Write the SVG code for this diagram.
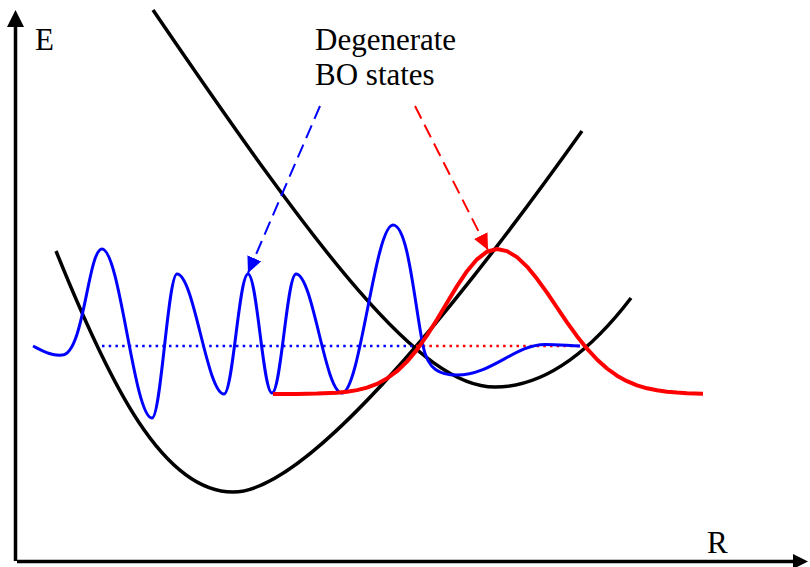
<svg xmlns="http://www.w3.org/2000/svg" width="810" height="567" viewBox="0 0 810 567">
  <defs>
    <style>
      .txt { font-family: "Liberation Serif", "Times New Roman", serif; font-size: 31px; fill: #000; }
      .axis { stroke: #000; stroke-width: 3.5; fill: none; }
      .pes { stroke: #000; stroke-width: 3.5; fill: none; stroke-linecap: butt; }
      .blue { stroke: #0000ff; stroke-width: 3; fill: none; stroke-linejoin: round; }
      .red { stroke: #ff0000; stroke-width: 4; fill: none; stroke-linejoin: round; }
      .dotb { stroke: #0000ff; stroke-width: 2.5; stroke-dasharray: 2.5 4.2; fill: none; }
      .dotr { stroke: #ff0000; stroke-width: 2.5; stroke-dasharray: 2.5 4.2; fill: none; }
      .dashb { stroke: #0000ff; stroke-width: 2; stroke-dasharray: 14 7; fill: none; }
      .dashr { stroke: #ff0000; stroke-width: 2; stroke-dasharray: 14 7; fill: none; }
    </style>
    <marker id="headBlue" markerUnits="userSpaceOnUse" markerWidth="16" markerHeight="15" viewBox="0 0 16 15" refX="16" refY="7.5" orient="auto">
      <path d="M0,0 L16,7.5 L0,15 z" fill="#0000ff"/>
    </marker>
    <marker id="headRed" markerUnits="userSpaceOnUse" markerWidth="16" markerHeight="15" viewBox="0 0 16 15" refX="16" refY="7.5" orient="auto">
      <path d="M0,0 L16,7.5 L0,15 z" fill="#ff0000"/>
    </marker>
  </defs>
  <rect width="810" height="567" fill="#fff"/>

  <g id="axes">
    <line class="axis" x1="15.5" y1="561" x2="15.5" y2="24"/>
    <polygon points="15.5,10 7,27 24,27" fill="#000"/>
    <line class="axis" x1="17" y1="561.5" x2="795" y2="561.5"/>
    <polygon points="808,561.5 793,554 793,569" fill="#000"/>
    <text class="txt" x="35" y="50">E</text>
    <text class="txt" x="707" y="553">R</text>
  </g>

  <g id="pes-lower">
    <path class="pes" d="M56,251 C110,385 163,492 233,492 C310,492 465,295 582,131"/>
  </g>
  <g id="pes-upper">
    <path class="pes" d="M153,10 C320,255 420,387 495,387 Q563,387 631,298"/>
  </g>

  <g id="energy-levels">
    <line class="dotb" x1="102" y1="346" x2="415" y2="346"/>
    <line class="dotr" x1="416" y1="346" x2="580" y2="346"/>
  </g>

  <g id="wavefunction-blue">
    <path class="blue" d="M33,346 C45,352 52,356 62,355 C84,355 88,249 102,249 C120,249 134,418 152,418 C161,418 168,274 177,274 C194,274 207,394 224,394 C233,394 239,274 248,274 C257,274 263,393 272,393 C281,393 287,274 296,274 C313,274 325,393 342,393 C360,393 375,225 393,225 C408,225 414,300 423,346 C428,370 440,375 457,375 C492,375 515,344.5 545,344.5 C560,344.5 570,346 580,346"/>
  </g>

  <g id="wavefunction-red">
    <polyline class="red" points="273,394 297,394 317,393.6 337,392.7 347,391.7 357,390.1 367,387.6 377,383.9 387,378.5 397,371.2 407,361.6 417,349.6 427,335.4 437,319.5 447,302.7 457,286.1 467,271.2 477,259.3 487,251.7 497,249 507,251.1 517,257.1 527,266.6 537,278.8 547,292.7 557,307.5 567,322.3 577,336.2 587,348.7 597,359.5 607,368.5 617,375.7 627,381.2 637,385.3 647,388.3 657,390.3 667,391.7 677,392.6 687,393.2 703,393.7"/>
  </g>

  <g id="label">
    <text class="txt" x="315" y="50">Degenerate</text>
    <text class="txt" x="315" y="85">BO states</text>
  </g>

  <g id="connectors">
    <line class="dashb" x1="320" y1="106" x2="248" y2="273" marker-end="url(#headBlue)"/>
    <line class="dashr" x1="415" y1="106" x2="488" y2="250" marker-end="url(#headRed)"/>
  </g>
</svg>
